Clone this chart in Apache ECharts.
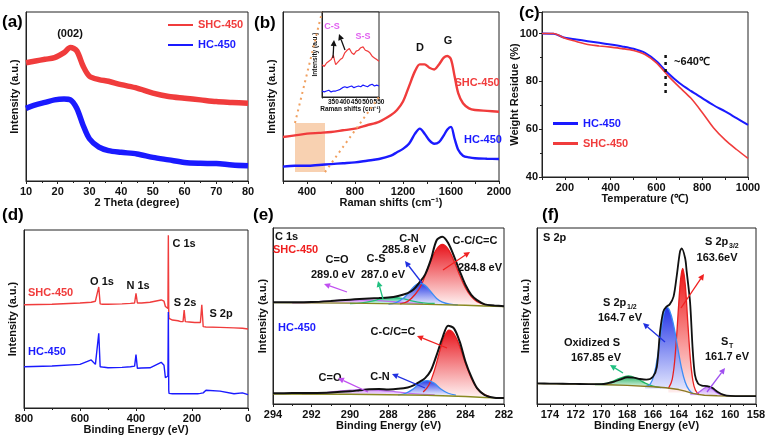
<!DOCTYPE html>
<html>
<head>
<meta charset="utf-8">
<script src="https://cdn.jsdelivr.net/npm/echarts@6/dist/echarts.min.js"></script>
<style>
html, body { margin: 0; padding: 0; background: #fff; }
#main { width: 770px; height: 441px; }
</style>
</head>
<body>
<div id="main"></div>
<script>
// (a) XRD
const xrdTheta = [10,13,16,19,22,24,26,28,30,33,36,40,45,50,55,60,65,70,75,80];
const xrdShc = [70,71,72,73,76,79,77,68,62,60,59,57,55,52,50,49,48,47,46.5,46];
const xrdHc = [43,45,46.5,48,48.5,48,43,33,25,20,18,17,16,14,12.5,11,10.5,10.3,9.5,9];

// (b) Raman + inset
const ramanShift = [200,300,400,500,600,700,800,900,1000,1100,1150,1200,1250,1300,1340,1380,1420,1460,1500,1540,1570,1600,1630,1660,1700,1750,1800,1900,2000];
const ramanShc = [26,27,28,28.5,29,30,31,33,35,39,42,47,56,65,69,69,67,66,69,73,74,72,62,52,46,43,42,41.5,41];
const ramanHc = [8.5,9,9,9.5,10,10.5,11,12,13,15,17,19,22,28,31,28,24,22,23,27,30.5,32,25,18.5,15,14,13.5,13.2,13];
const insetShift = [300,310,320,330,340,350,355,360,370,380,390,400,410,420,430,440,450,460,470,480,490,500,510,520,530,540,550];
const insetShc = [38,36,40,42,44,49,43,38,41,44,46,52,55,57,52,50,54,55,58,59,55,54,52,48,46,44,42];
const insetHc = [7,6,7,8,6,7,8,7,8,9,11,12,11,12,13,11,12,13,12,14,13,12,14,15,13,14,13];
const zoomBox = [300, 550, 5.3, 34.3]; // x0, x1, y0, y1 of shaded region

// (c) TGA
const tgaTemp = [100,150,200,250,300,350,400,450,500,550,600,650,700,750,800,850,900,950,1000];
const tgaHc = [100,99.9,98.2,97.5,96.8,96.1,95.4,94.6,93.6,91.9,88.4,83.5,79.3,76,73,70,67.4,64.6,61.8];
const tgaShc = [100,100,98,96.7,95.4,94.8,94.3,93.7,92.9,91.2,87.7,82.4,77.6,73,67,60.5,55.5,51.5,47.8];
const tgaMark = [640, 91, 73.6];

// (d) XPS survey
const xpsBE = [800,700,600,560,545,538,533,528,520,500,450,420,405,400,395,380,350,310,300,295,290,286,284.5,283,282,270,250,240,232,228,224,210,190,180,170,165,160,150,100,50,20,0];
const xpsShc = [58,58.3,59,59.4,60,60.5,68,58.5,58.3,58.3,58.5,58.8,59,64.4,59,59,59.4,60.7,60,57,56,56,97,52,50.4,49.4,49,48.5,48.5,55,48.5,48.3,48,48,48,58,45.7,45.5,45.3,45,44.8,44.4];
const xpsHc = [23.2,23.6,24.5,27,24.5,25,42,23.2,23,22.6,22.8,23.2,23.5,30,22.3,22.5,22.6,25.7,24,17,16.5,18,54,10,8.2,8,8,8,8,8,8,8,8,8,8.2,8.5,8.5,10,9.5,8,8.5,7.5];

// (e) C 1s
const c1sBE = [294,293,292,291,290,289.5,289,288.5,288,287.5,287,286.7,286.4,286.1,285.8,285.5,285.2,284.9,284.6,284.3,284,283.7,283.4,283,282.5,282];
const c1sShcEnv = [57.8,57.8,57.9,58.5,59.3,59.7,60,60.2,60.5,61.4,63,65,69,73.5,82,93,95,91.5,84,75.5,67.6,62,59,56.6,56,55.5];
const c1sHcEnv = [6.1,6.2,6.3,6.6,7.2,7.8,8.4,8.5,8.3,8.6,9.4,10.6,12.5,14.7,19,27.8,37.5,44.5,43,35.4,24,15.5,9,5.1,3.6,3.4];
const c1sBaseBE = [294,290,286,284,283,282];
const c1sShcBase = [57.6,57.3,56.6,56.1,55.7,55.3];
const c1sHcBase = [5.7,5.5,5.0,4.3,3.7,3.4];
const shcCCx = [287.4,287,286.6,286.3,286,285.8,285.5,285.2,284.9,284.6,284.3,284,283.7,283.4,283];
const shcCCy = [56.9,58.3,62.5,67.5,75.8,81.3,88,90.7,88,81.3,73.1,65.9,61,58.2,56.6];
const shcCNx = [288,287.6,287.2,286.9,286.6,286.36,286.1,285.8,285.5,285.2,284.8,284.4];
const shcCNy = [56.7,57.6,60.3,64,67.5,68.6,67.4,63.8,60,57.9,56.7,56.3];
const shcCSx = [290,289.4,288.8,288.3,287.8,287.3,286.8,286.2,285.6];
const shcCSy = [57.1,57.5,58.6,60,60.6,60,58.6,57.5,57.1];
const shcCOx = [293,292,291,290.3,289.6,288.9,288.2,287.2,286.2];
const shcCOy = [57.5,57.8,58.6,59,59.2,59,58.5,57.6,57.2];
const hcCCx = [286.2,285.9,285.6,285.3,285.1,284.85,284.6,284.3,284,283.7,283.4,283.1,282.7];
const hcCCy = [6.8,10.8,19.7,31.6,38.3,42,39.8,32.7,23,14.6,8.8,5.9,4];
const hcCNx = [287.5,287.1,286.7,286.35,286,285.65,285.3,284.9,284.5];
const hcCNy = [5.2,6.1,8.7,12,13.3,12,8.7,6.1,5.1];
const hcCOx = [292.5,291.5,290.7,290,289.2,288.4,287.6,286.6,285.6];
const hcCOy = [5.6,6.1,7.2,7.8,8.3,7.8,6.9,5.8,5.2];

// (f) S 2p
const s2pBE = [175,174,173,172,171,170,169.5,169,168.5,168,167.5,167,166.5,166,165.7,165.45,165.2,164.95,164.7,164.4,164.15,163.9,163.77,163.5,163.38,163.12,162.92,162.74,162.5,162.2,161.8,161.4,161,160.5,160,159,158];
const s2pEnv = [11.7,11.6,11.5,11.4,11.3,11.3,11.8,12.7,14,15.2,15,14.2,13.8,15.5,21,41,52.5,55.3,56.6,61,73,86.6,88.4,82.8,75.2,58,31.6,16.5,11.7,10.5,10.2,9.2,7,5.2,4.6,4.5,4.5];
const s2pBaseBE = [175,172,170,168,166,165,164,163.5,163,162.5,162,161,160,158];
const s2pBase = [11.6,11.3,11.1,10.6,9.8,9.2,8.2,7.3,6.2,5.5,5.0,4.7,4.5,4.5];
const p32x = [164.8,164.5,164.25,164,163.85,163.69,163.5,163.3,163.1,162.9,162.7,162.4];
const p32y = [8.8,14.2,29.9,56.7,71,77.1,68.4,47,26.1,13.2,7.8,5.2];
const p12x = [166.6,166.2,165.9,165.6,165.3,165.1,164.95,164.7,164.4,164.1,163.8,163.5,163.2,162.9];
const p12y = [9.9,11.5,17,29,45,53,55,53,45,33,21,12.5,8,6];
const oxSx = [170.5,169.8,169.2,168.6,167.9,167.2,166.6,166,165.4];
const oxSy = [11.2,11.5,12.7,14.6,15.9,14.2,11.9,10.2,9.3];
const sTx = [163.1,162.7,162.35,162.05,161.75,161.45,161.15,160.8,160.4];
const sTy = [5.7,5.8,7.1,8.8,9.8,8.8,7,5.6,4.8];

const FONT = '"Liberation Sans", Arial, sans-serif';
const RED = '#f03c3c', BLUE = '#1a1aff', MAG = '#e060f0';

function zip(xs, ys) { return xs.map((x, i) => [x, ys[i]]); }

const chart = echarts.init(document.getElementById('main'));

const grid = [
  { left: 26, top: 12, width: 222, height: 169 },
  { left: 283, top: 12, width: 216, height: 169 },
  { left: 542, top: 12, width: 206, height: 165 },
  { left: 24, top: 230, width: 224, height: 178 },
  { left: 273, top: 228, width: 231, height: 176 },
  { left: 537, top: 228, width: 219, height: 176 },
  { left: 322, top: 12, width: 57, height: 85 }
].map(g => Object.assign({ show: true, borderColor: '#222', borderWidth: 1, backgroundColor: '#fff', containLabel: false, outerBoundsMode: 'none' }, g));

function txt(size) {
  return { fontSize: size, fontWeight: 'bold', color: '#111', fontFamily: FONT };
}

function xAx(i, min, max, interval, name, step, extra) {
  return Object.assign({
    gridIndex: i, type: 'value', min: min, max: max, interval: interval,
    name: name, nameLocation: 'middle', nameGap: 16, nameMoveOverlap: false,
    nameTextStyle: txt(11),
    axisLine: { onZero: false, lineStyle: { color: '#222', width: 1 } },
    axisTick: { length: 3, lineStyle: { color: '#222' } },
    splitLine: { show: false },
    axisLabel: Object.assign(txt(11), {
      margin: 5,
      formatter: v => (Math.abs(v % step) < 1e-6 && v !== max || (v === max && max % step === 0)) ? String(v) : ''
    })
  }, extra || {});
}

function yAx(i, min, max, name, gap, extra) {
  return Object.assign({
    gridIndex: i, type: 'value', min: min, max: max,
    name: name, nameLocation: 'middle', nameGap: gap, nameMoveOverlap: false,
    nameTextStyle: txt(11),
    axisLine: { onZero: false, lineStyle: { color: '#222', width: 1 } },
    axisTick: { show: false },
    axisLabel: { show: false },
    splitLine: { show: false }
  }, extra || {});
}

const minor = { show: true, splitNumber: 2, length: 2, lineStyle: { color: '#222' } };

const xAxis = [
  xAx(0, 10, 80, 10, '2 Theta (degree)', 10, { minorTick: minor }),
  xAx(1, 200, 2000, 200, 'Raman shifts (cm\u207B\u00B9)', 400),
  xAx(2, 100, 1000, 100, 'Temperature (\u2103)', 200),
  xAx(3, 0, 800, 200, 'Binding Energy (eV)', 200, { inverse: true, minorTick: minor }),
  xAx(4, 282, 294, 2, 'Binding Energy (eV)', 2, { inverse: true, minorTick: minor }),
  xAx(5, 158, 175, 2, 'Binding Energy (eV)', 2, { inverse: true, minorTick: minor }),
  xAx(6, 300, 550, 50, 'Raman shifts (cm\u207B\u00B9)', 50, {
    nameGap: 9, nameTextStyle: txt(6.5),
    axisTick: { length: 1.5, lineStyle: { color: '#222' } },
    axisLabel: Object.assign(txt(6.5), { margin: 2, formatter: v => v === 300 ? '' : String(v) })
  })
];

const yAxis = [
  yAx(0, 0, 100, 'Intensity (a.u.)', 6),
  yAx(1, 0, 100, 'Intensity (a.u.)', 6),
  yAx(2, 40, 109, 'Weight Residue (%)', 22, {
    interval: 20,
    axisTick: { show: true, length: 3, lineStyle: { color: '#222' } },
    minorTick: minor,
    axisLabel: Object.assign(txt(11), { margin: 4, formatter: v => v % 20 === 0 ? String(v) : '' })
  }),
  yAx(3, 0, 100, 'Intensity (a.u.)', 6),
  yAx(4, 0, 100, 'Intensity (a.u.)', 5),
  yAx(5, 0, 100, 'Intensity (a.u.)', 6),
  yAx(6, 0, 100, 'Intensity (a.u.)', 3, { nameTextStyle: txt(6.5) })
];

function line(name, i, data, color, width, extra) {
  return Object.assign({
    name: name, type: 'line', xAxisIndex: i, yAxisIndex: i, data: data,
    symbol: 'none', silent: true, animation: false,
    lineStyle: { color: color, width: width }, itemStyle: { color: color }
  }, extra || {});
}

function peak(i, data, lineColor, topColor, bottomColor, origin) {
  return line(undefined, i, data, lineColor, 1.3, {
    smooth: 0.4,
    areaStyle: {
      origin: origin, opacity: 1,
      color: new echarts.graphic.LinearGradient(0, 0, 0, 1, [
        { offset: 0, color: topColor }, { offset: 1, color: bottomColor }
      ])
    }
  });
}

const series = [
  // (a)
  line('SHC-450', 0, zip(xrdTheta, xrdShc), RED, 5.5, { smooth: 0.3 }),
  line('HC-450', 0, zip(xrdTheta, xrdHc), BLUE, 5.5, { smooth: 0.3 }),
  // (b)
  line('SHC-450', 1, zip(ramanShift, ramanShc), RED, 2.4, { smooth: 0.3 }),
  line('HC-450', 1, zip(ramanShift, ramanHc), BLUE, 2.4, {
    smooth: 0.3,
    markArea: {
      silent: true,
      itemStyle: { color: 'rgba(244,178,125,0.6)' },
      data: [[{ xAxis: zoomBox[0], yAxis: zoomBox[3] }, { xAxis: zoomBox[1], yAxis: zoomBox[2] }]]
    }
  }),
  line('SHC-450', 6, zip(insetShift, insetShc), RED, 1.2),
  line('HC-450', 6, zip(insetShift, insetHc), BLUE, 1.2),
  // (c)
  line('HC-450', 2, zip(tgaTemp, tgaHc), BLUE, 2, { smooth: 0.3 }),
  line('SHC-450', 2, zip(tgaTemp, tgaShc), RED, 1.6, { smooth: 0.3 }),
  line(undefined, 2, [[tgaMark[0], tgaMark[1]], [tgaMark[0], tgaMark[2]]], '#111', 2.5, { lineStyle: { color: '#111', width: 2.5, type: [3, 4] } }),
  // (d)
  line('SHC-450', 3, zip(xpsBE, xpsShc), RED, 1.4),
  line('HC-450', 3, zip(xpsBE, xpsHc), BLUE, 1.4),
  // (e) SHC
  peak(4, zip(shcCOx, shcCOy), '#c070f0', '#cf8ef5', 'rgba(245,230,255,0.9)', 56.8),
  peak(4, zip(shcCSx, shcCSy), '#22c07c', '#25c080', 'rgba(220,250,235,0.9)', 56.8),
  peak(4, zip(shcCCx, shcCCy), '#e82020', '#e8121a', 'rgba(255,240,240,0.95)', 56.3),
  peak(4, zip(shcCNx, shcCNy), '#3c8cf5', '#2438e6', 'rgba(235,238,255,0.95)', 56.5),
  line(undefined, 4, zip(c1sBaseBE, c1sShcBase), '#8a8a22', 1.4),
  line(undefined, 4, zip(c1sBE, c1sShcEnv), '#111', 2, { smooth: 0.3 }),
  // (e) HC
  peak(4, zip(hcCOx, hcCOy), '#c070f0', '#cf8ef5', 'rgba(245,230,255,0.9)', 5.2),
  peak(4, zip(hcCCx, hcCCy), '#e82020', '#e8121a', 'rgba(255,240,240,0.95)', 4.6),
  peak(4, zip(hcCNx, hcCNy), '#3c8cf5', '#2438e6', 'rgba(235,238,255,0.95)', 5.0),
  line(undefined, 4, zip(c1sBaseBE, c1sHcBase), '#8a8a22', 1.4),
  line(undefined, 4, zip(c1sBE, c1sHcEnv), '#111', 2, { smooth: 0.3 }),
  // (f)
  peak(5, zip(oxSx, oxSy), '#22b865', '#21ad5c', 'rgba(225,248,232,0.9)', 10.3),
  peak(5, zip(p32x, p32y), '#e82020', '#ee1111', 'rgba(255,240,240,0.95)', 6.6),
  peak(5, zip(p12x, p12y), '#3c8cf5', '#2233e6', 'rgba(235,238,255,0.95)', 8.6),
  peak(5, zip(sTx, sTy), '#b060f0', '#c68ef5', 'rgba(240,228,255,0.9)', 4.8),
  line(undefined, 5, zip(s2pBaseBE, s2pBase), '#8a7a22', 1.4),
  line(undefined, 5, zip(s2pBE, s2pEnv), '#111', 1.8, { smooth: 0.3 })
];

const legend = [
  {
    left: 168, top: 19.5, padding: 0, orient: 'vertical', icon: 'rect',
    itemWidth: 25, itemHeight: 2, itemGap: 9, textStyle: txt(11),
    data: [{ name: 'SHC-450', textStyle: { color: RED } }, { name: 'HC-450', textStyle: { color: BLUE } }]
  },
  {
    left: 553, top: 118, padding: 0, orient: 'vertical', icon: 'rect',
    itemWidth: 25, itemHeight: 3, itemGap: 9, textStyle: txt(11),
    data: [{ name: 'HC-450', textStyle: { color: BLUE } }, { name: 'SHC-450', textStyle: { color: RED } }]
  }
];

chart.setOption({
  animation: false,
  backgroundColor: '#fff',
  textStyle: { fontFamily: FONT },
  grid: grid, xAxis: xAxis, yAxis: yAxis, legend: legend, series: series
});

// annotations: [text, x, y, color, size, align]
const notes = [
  ['(a)', 2, 22, '#000', 17, 'left'], ['(b)', 254, 23, '#000', 17, 'left'], ['(c)', 519, 13, '#000', 17, 'left'],
  ['(d)', 2, 215, '#000', 17, 'left'], ['(e)', 253, 215, '#000', 17, 'left'], ['(f)', 542, 215, '#000', 17, 'left'],
  ['(002)', 70, 34], ['D', 420, 48], ['G', 448, 41], ['SHC-450', 477, 83, RED], ['HC-450', 483, 140, BLUE],
  ['C-S', 332, 27, MAG, 9], ['S-S', 363, 37, MAG, 9],
  ['~640\u2103', 692, 62],
  ['SHC-450', 28, 293, RED, 11, 'left'], ['HC-450', 28, 352, BLUE, 11, 'left'],
  ['O 1s', 102, 282], ['N 1s', 138, 286], ['C 1s', 184, 244], ['S 2s', 185, 303], ['S 2p', 221, 314],
  ['C 1s', 275, 237, '#111', 11, 'left'], ['SHC-450', 273, 250, '#f02020', 11, 'left'],
  ['C=O', 337, 260], ['289.0 eV', 333, 275], ['C-S', 376, 259], ['287.0 eV', 383, 275],
  ['C-N', 409, 239], ['285.8 eV', 404, 250], ['C-C/C=C', 475, 241], ['284.8 eV', 480, 268],
  ['HC-450', 278, 328, BLUE, 11, 'left'], ['C-C/C=C', 393, 332], ['C=O', 330, 378], ['C-N', 380, 377],
  ['S 2p', 543, 238, '#111', 11, 'left'], ['Oxidized S', 592, 343], ['167.85 eV', 596, 358],
  ['164.7 eV', 620, 318], ['163.6eV', 717, 258], ['161.7 eV', 727, 357],
  ['S 2p', 705, 242, '#111', 11, 'left'], ['3/2', 729, 246, '#111', 7, 'left'],
  ['S 2p', 603, 303, '#111', 11, 'left'], ['1/2', 627, 307, '#111', 7, 'left'],
  ['S', 721, 342, '#111', 11, 'left'], ['T', 729, 346, '#111', 7, 'left']
];

// arrows: [x1, y1, x2(head), y2(head), color]
const arrows = [
  [333, 58, 334, 40, '#111'], [345, 50, 339, 34, '#111'],
  [347, 292, 324, 284, '#c050f0'], [383, 299, 378, 281, '#20c080'], [422, 283, 405, 261, '#2030e0'], [443, 270, 470, 252, '#f02020'],
  [447, 348, 417, 336, '#f02020'], [425, 388, 392, 374, '#2030e0'], [368, 392, 338, 378, '#c050f0'],
  [681, 308, 704, 274, '#f02020'], [665, 342, 643, 323, '#2030e0'], [623, 373, 610, 365, '#20c080'], [707, 392, 725, 368, '#a050f0']
];

const graphic = [];
notes.forEach(n => {
  const align = n[5] || 'center';
  graphic.push({
    type: 'text', x: n[1], y: n[2], z: 100, silent: true,
    style: {
      text: n[0], fill: n[3] || '#111', fontSize: n[4] || 11, fontWeight: 'bold', fontFamily: FONT,
      align: align, verticalAlign: 'middle', textAlign: align, textVerticalAlign: 'middle'
    }
  });
});
arrows.forEach(a => {
  const dx = a[2] - a[0], dy = a[3] - a[1];
  const len = Math.sqrt(dx * dx + dy * dy);
  const ux = dx / len, uy = dy / len;
  const bx = a[2] - ux * 6, by = a[3] - uy * 6;
  graphic.push({
    type: 'line', z: 100, silent: true,
    shape: { x1: a[0], y1: a[1], x2: bx, y2: by },
    style: { stroke: a[4], lineWidth: 1.3 }
  });
  graphic.push({
    type: 'polygon', z: 100, silent: true,
    shape: { points: [[a[2], a[3]], [bx - uy * 3, by + ux * 3], [bx + uy * 3, by - ux * 3]] },
    style: { fill: a[4] }
  });
});

// dotted connectors from the shaded region to the inset
const pTL = chart.convertToPixel({ gridIndex: 1 }, [zoomBox[0], zoomBox[3]]);
const pBR = chart.convertToPixel({ gridIndex: 1 }, [zoomBox[1], zoomBox[2]]);
const iTL = chart.convertToPixel({ gridIndex: 6 }, [300, 100]);
const iBR = chart.convertToPixel({ gridIndex: 6 }, [550, 0]);
[[pTL, iTL], [pBR, iBR]].forEach(s => {
  graphic.push({
    type: 'line', z: 90, silent: true,
    shape: { x1: s[0][0], y1: s[0][1], x2: s[1][0], y2: s[1][1] },
    style: { stroke: '#f0a060', lineWidth: 2, lineDash: [2, 4] }
  });
});

chart.setOption({ graphic: graphic });
</script>
</body>
</html>
